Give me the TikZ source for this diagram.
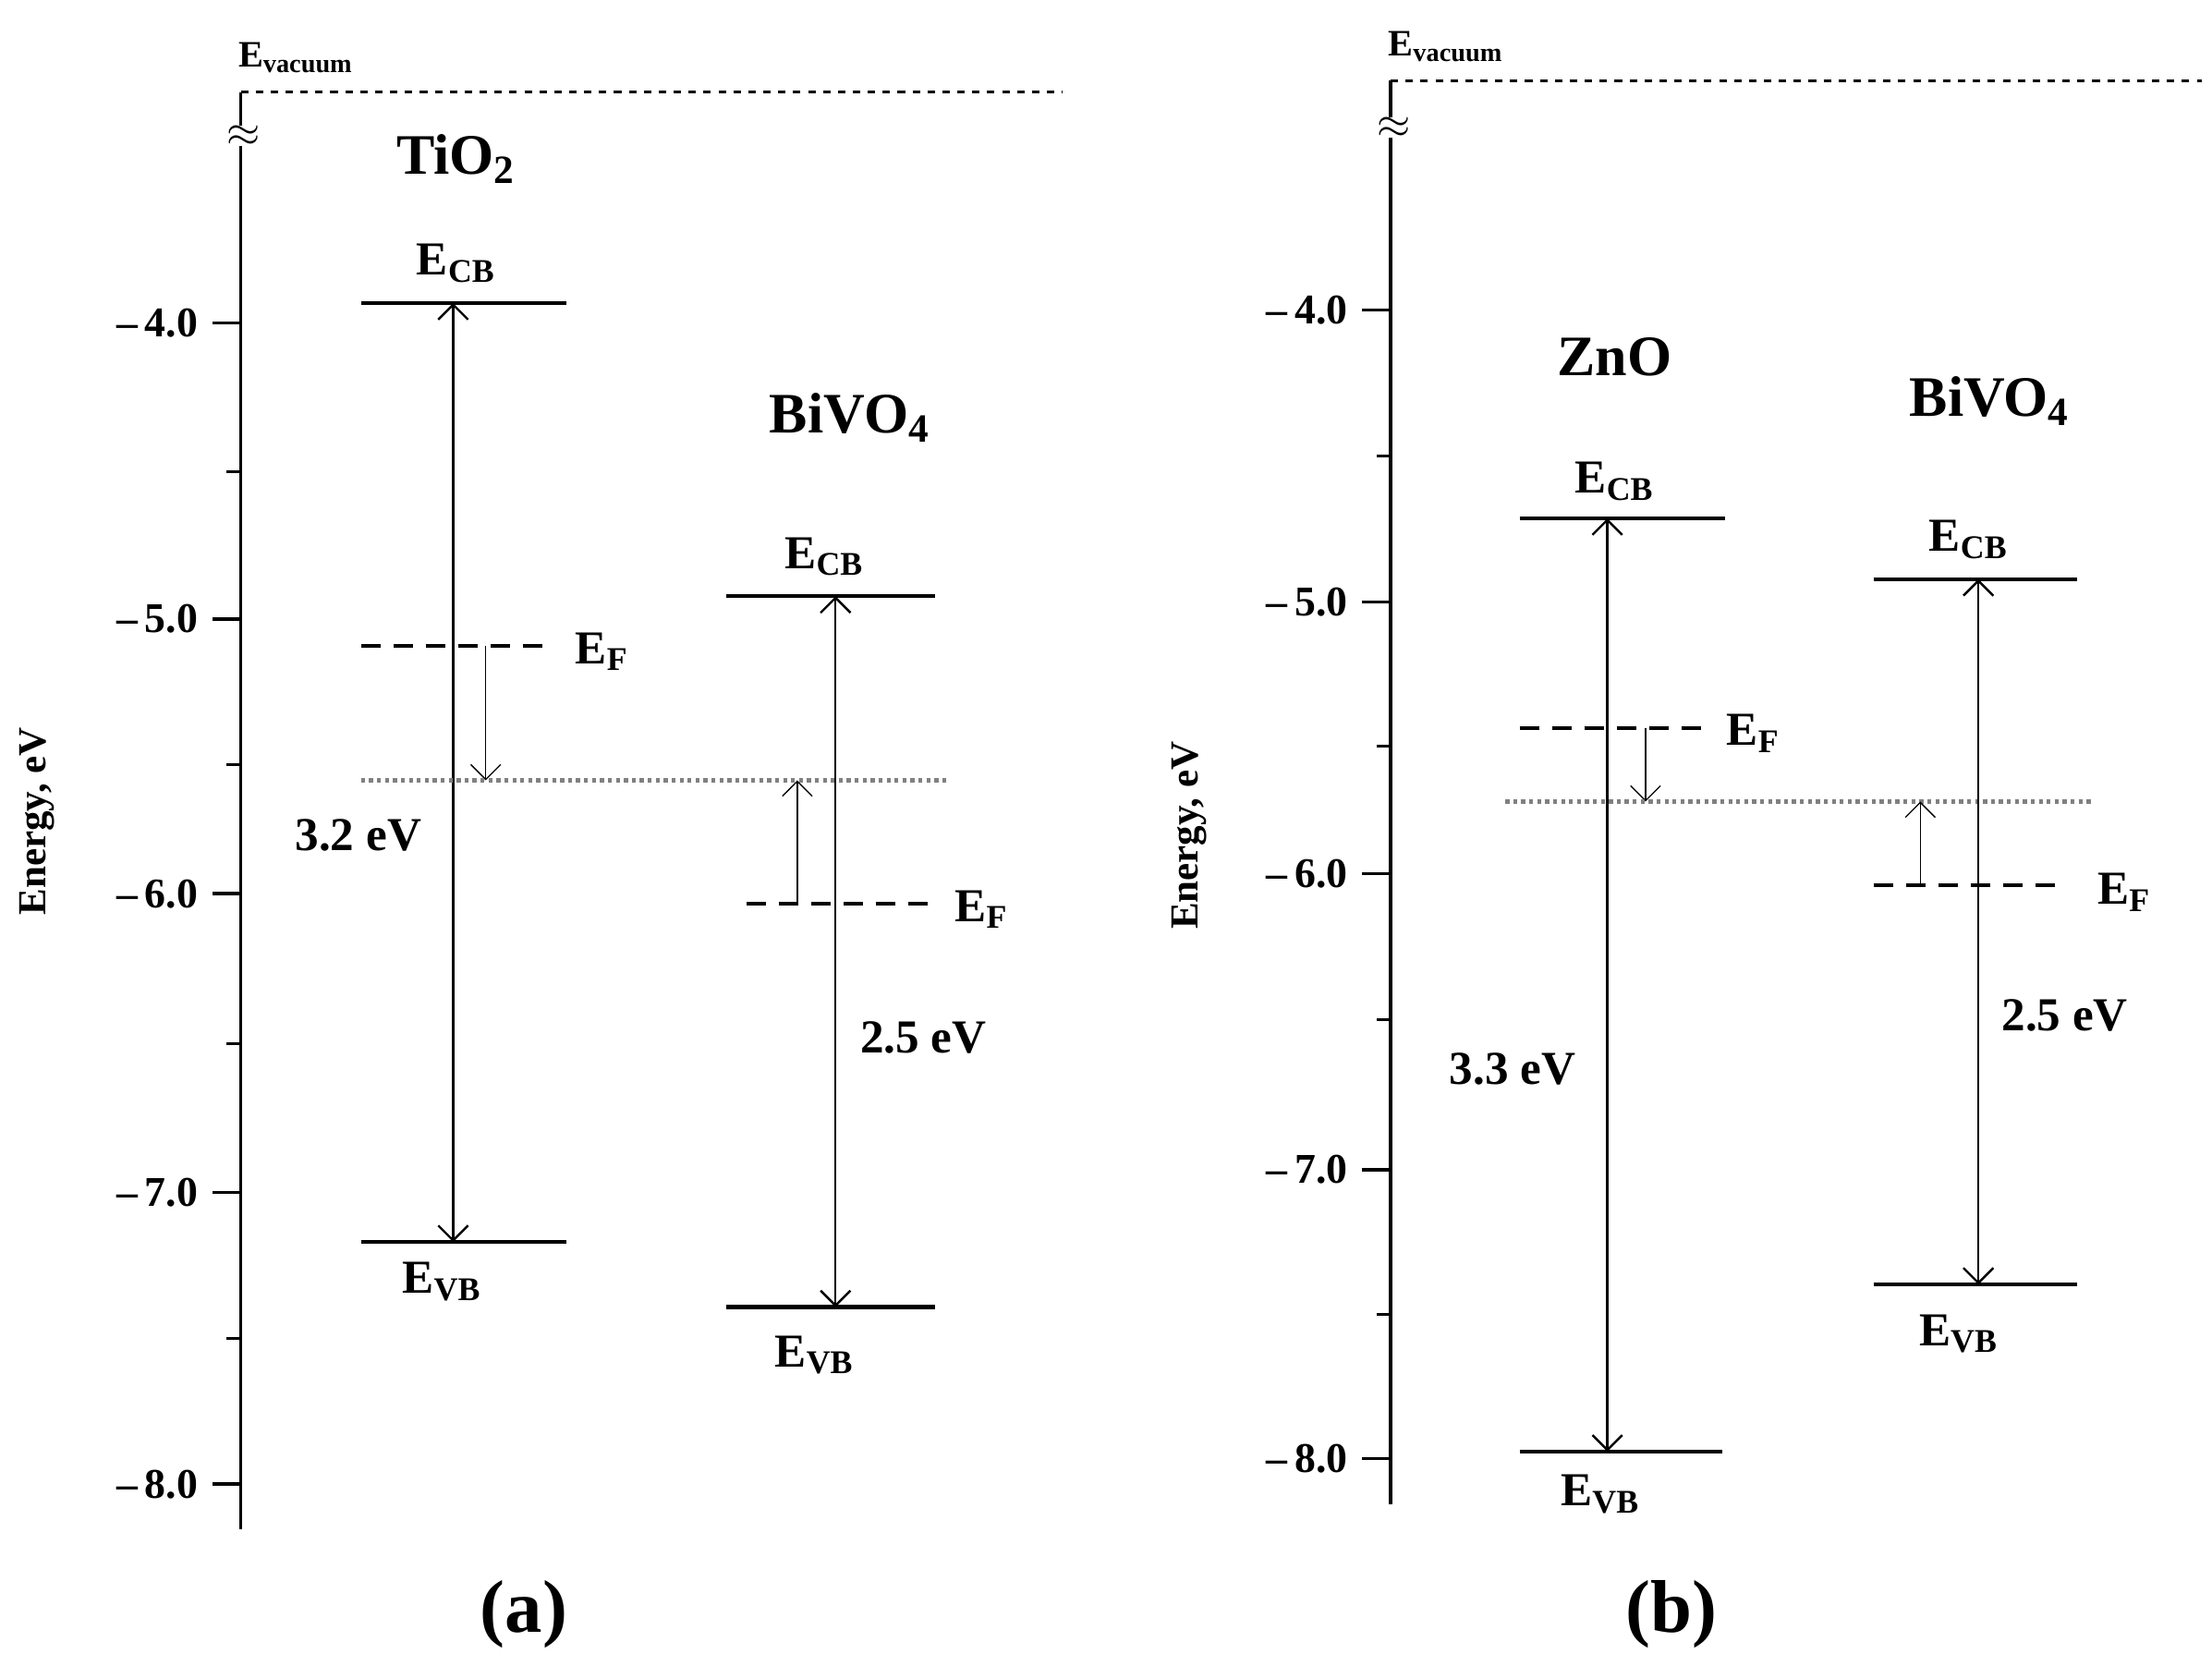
\documentclass[tikz,border=0pt]{standalone}
\usepackage{fontspec}
\setmainfont{Liberation Serif}
\usetikzlibrary{arrows.meta}
\begin{document}
\begin{tikzpicture}[x=0.02cm,y=-0.02cm,
  lvl/.style={line width=1.6pt},
  fermi/.style={line width=1.6pt,dash pattern=on 8pt off 5pt},
  gap/.style={line width=0.9pt,{Straight Barb[length=6pt]}-{Straight Barb[length=6pt]}},
  efshift/.style={line width=0.5pt,-{Straight Barb[length=6pt]}},
  dotl/.style={line width=1.8pt,gray,dash pattern=on 1.6pt off 1.6pt},
  lab/.style={font=\bfseries\fontsize{19}{19}\selectfont,inner sep=0pt},
  big/.style={font=\bfseries\fontsize{23}{23}\selectfont,inner sep=0pt},
  tick/.style={font=\bfseries\fontsize{17}{17}\selectfont,anchor=east,inner sep=0pt},
  vac/.style={line width=0.9pt,dashed}]
\useasboundingbox (0,0) rectangle (1562,1176);
% ---------- panel a
\coordinate (at) at (170,65); \coordinate (ab) at (170,1080);
\draw[line width=1.3pt] (at) -- (ab);
\draw[vac] (at) -- (750,65);
\node[fill=white,inner sep=0pt,font=\fontsize{18}{18}\selectfont] at (172,96) {$\approx$};
\node[lab,anchor=south west,font=\bfseries\fontsize{15}{15}\selectfont] at (168,52) {E\textsubscript{vacuum}};
\foreach \y/\t in {228/4.0,437/5.0,631/6.0,842/7.0,1048/8.0}{
  \draw[line width=1.3pt] (150,\y) -- (170,\y);
  \node[tick] at (140,\y) {–\,\t};}
\foreach \y in {333,540,737,945}{\draw[line width=1.3pt] (160,\y) -- (170,\y);}
\node[font=\bfseries\fontsize{16}{16}\selectfont,rotate=90] at (26,580) {Energy, eV};
\node[big] at (322,112) {TiO\textsubscript{2}};
\draw[lvl] (255,214) -- (400,214);
\draw[lvl] (255,877) -- (400,877);
\node[lab] at (322,186) {E\textsubscript{CB}};
\node[lab] at (312,905) {E\textsubscript{VB}};
\coordinate (tca) at (320,214); \coordinate (tva) at (320,877);
\draw[gap] (tca) -- (tva);
\draw[fermi] (255,456) -- (390,456);
\node[lab] at (425,460) {E\textsubscript{F}};
\coordinate (tf) at (343,456); \coordinate (tq) at (343,551);
\draw[efshift] (tf) -- (tq);
\draw[dotl] (255,551) -- (670,551);
\node[lab] at (253,590) {3.2 eV};
\node[big] at (600,295) {BiVO\textsubscript{4}};
\draw[lvl] (513,421) -- (660,421);
\draw[lvl] (513,923) -- (660,923);
\node[lab] at (582,393) {E\textsubscript{CB}};
\node[lab] at (575,957) {E\textsubscript{VB}};
\coordinate (bca) at (590,421); \coordinate (bva) at (590,923);
\draw[gap] (bca) -- (bva);
\draw[fermi] (527,638) -- (655,638);
\node[lab] at (693,642) {E\textsubscript{F}};
\coordinate (bf) at (563,638); \coordinate (bq) at (563,551);
\draw[efshift] (bf) -- (bq);
\node[lab] at (652,733) {2.5 eV};
\node[font=\bfseries\fontsize{30}{30}\selectfont] at (370,1140) {(a)};
% ---------- panel b
\coordinate (bt) at (982,57); \coordinate (bb) at (982,1062);
\draw[line width=1.3pt] (bt) -- (bb);
\draw[vac] (bt) -- (1555,57);
\node[fill=white,inner sep=0pt,font=\fontsize{18}{18}\selectfont] at (984,90) {$\approx$};
\node[lab,anchor=south west,font=\bfseries\fontsize{15}{15}\selectfont] at (980,44) {E\textsubscript{vacuum}};
\foreach \y/\t in {219/4.0,425/5.0,617/6.0,826/7.0,1030/8.0}{
  \draw[line width=1.3pt] (962,\y) -- (982,\y);
  \node[tick] at (952,\y) {–\,\t};}
\foreach \y in {322,527,720,928}{\draw[line width=1.3pt] (972,\y) -- (982,\y);}
\node[font=\bfseries\fontsize{16}{16}\selectfont,rotate=90] at (840,590) {Energy, eV};
\node[big] at (1140,252) {ZnO};
\draw[lvl] (1073,366) -- (1218,366);
\draw[lvl] (1073,1025) -- (1216,1025);
\node[lab] at (1140,340) {E\textsubscript{CB}};
\node[lab] at (1130,1055) {E\textsubscript{VB}};
\coordinate (zca) at (1135,366); \coordinate (zva) at (1135,1025);
\draw[gap] (zca) -- (zva);
\draw[fermi] (1073,514) -- (1210,514);
\node[lab] at (1238,518) {E\textsubscript{F}};
\coordinate (zf) at (1162,514); \coordinate (zq) at (1162,566);
\draw[efshift] (zf) -- (zq);
\draw[dotl] (1063,566) -- (1478,566);
\node[lab] at (1068,755) {3.3 eV};
\node[big] at (1405,283) {BiVO\textsubscript{4}};
\draw[lvl] (1323,409) -- (1467,409);
\draw[lvl] (1323,907) -- (1467,907);
\node[lab] at (1390,381) {E\textsubscript{CB}};
\node[lab] at (1383,942) {E\textsubscript{VB}};
\coordinate (vca) at (1397,409); \coordinate (vva) at (1397,907);
\draw[gap] (vca) -- (vva);
\draw[fermi] (1323,625) -- (1460,625);
\node[lab] at (1500,630) {E\textsubscript{F}};
\coordinate (vf) at (1356,625); \coordinate (vq) at (1356,566);
\draw[efshift] (vf) -- (vq);
\node[lab] at (1458,717) {2.5 eV};
\node[font=\bfseries\fontsize{30}{30}\selectfont] at (1180,1140) {(b)};
\end{tikzpicture}
\end{document}
